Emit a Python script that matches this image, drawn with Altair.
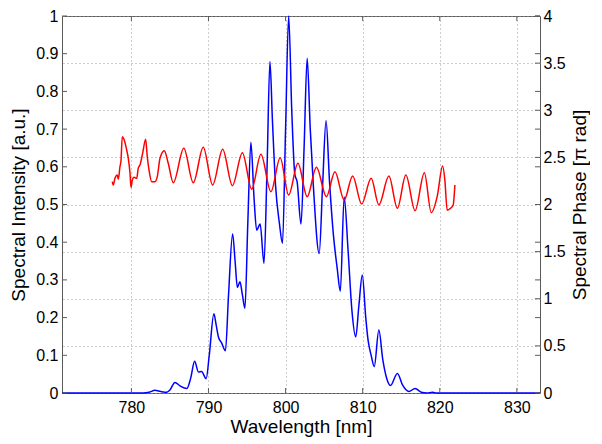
import altair as alt
import pandas as pd

# ---- data ----
wl_blue = [771.0, 781.5, 782.3, 783.06, 783.8, 784.6, 785.0, 785.65, 786.3, 787.2,
           787.7, 788.2, 788.7, 789.1, 789.7, 790.1, 790.7, 791.0, 791.3, 791.7,
           792.2, 792.6, 793.13, 793.45, 793.75, 794.08, 794.4, 794.73, 795.1, 795.5,
           795.9, 796.25, 796.7, 797.2, 797.6, 797.97, 798.3, 798.7, 799.2, 799.6,
           800.0, 800.4, 800.8, 801.2, 801.5, 802.0, 802.4, 802.8, 803.2, 803.6,
           804.36, 804.8, 805.25, 805.7, 806.2, 806.7, 807.1, 807.6, 808.1, 808.6,
           809.1, 809.5, 809.95, 810.4, 810.7, 811.1, 811.5, 812.1, 812.6, 813.1,
           813.6, 814.5, 815.2, 816.0, 816.8, 817.6, 818.3, 819.07, 819.6, 833.0]
intensity = [0.0, 0.0, 0.002, 0.007, 0.004, 0.002, 0.008, 0.028, 0.019, 0.012,
             0.04, 0.084, 0.056, 0.057, 0.038, 0.1, 0.21, 0.18, 0.148, 0.133,
             0.112, 0.26, 0.422, 0.35, 0.28, 0.295, 0.26, 0.225, 0.45, 0.665,
             0.52, 0.432, 0.448, 0.344, 0.6, 0.879, 0.72, 0.55, 0.45, 0.397,
             0.7, 1.0, 0.75, 0.58, 0.56, 0.448, 0.65, 0.888, 0.7, 0.55,
             0.37, 0.55, 0.722, 0.56, 0.42, 0.33, 0.27, 0.52, 0.38, 0.22,
             0.149, 0.23, 0.313, 0.2, 0.14, 0.1, 0.07, 0.167, 0.09, 0.04,
             0.02, 0.052, 0.02, 0.004, 0.012, 0.002, 0.0, 0.002, 0.0, 0.0]

wl_red = [777.52, 777.65, 777.87, 778.17, 778.30, 778.52, 778.65, 778.82, 779.04, 779.39,
          779.60, 779.82, 779.95, 780.12, 780.34, 780.69, 780.89, 781.11, 781.46, 781.85,
          782.06, 782.32, 782.63, 783.06, 783.36, 783.71, 784.27, 784.78, 785.43, 786.8,
          788.03, 789.32, 790.54, 791.84, 793.1, 794.4, 795.6, 796.8, 798.1, 799.3,
          800.4, 801.6, 802.8, 804.0, 805.3, 806.4, 807.6, 808.7, 809.87, 811.1,
          812.1, 813.4, 814.5, 815.6, 816.8, 818.0, 818.9, 819.66, 820.37, 820.66,
          820.96, 821.4, 821.74, 821.96]
phase = [2.242, 2.207, 2.278, 2.313, 2.267, 2.401, 2.465, 2.72, 2.692, 2.578,
         2.49, 2.331, 2.18, 2.26, 2.289, 2.278, 2.384, 2.419, 2.543, 2.692,
         2.507, 2.348, 2.242, 2.242, 2.295, 2.49, 2.571, 2.437, 2.231, 2.596,
         2.231, 2.607, 2.207, 2.586, 2.2, 2.55, 2.161, 2.532, 2.136, 2.497,
         2.10, 2.437, 2.083, 2.395, 2.083, 2.348, 2.048, 2.302, 2.005, 2.278,
         1.995, 2.302, 1.96, 2.313, 1.934, 2.337, 1.913, 2.083, 2.409, 2.26,
         1.94, 1.96, 1.995, 2.207]

x_ticks = [780, 790, 800, 810, 820, 830]
left_ticks = [0, 0.1, 0.2, 0.3, 0.4, 0.5, 0.6, 0.7, 0.8, 0.9, 1]
right_ticks = [0, 0.5, 1, 1.5, 2, 2.5, 3, 3.5, 4]

# ---- layout / style ----
W, H = 478, 377
FONT = "Liberation Sans"
AX = "#5a5a5a"
GRID = "#9a9a9a"

df_blue = pd.DataFrame({"wl": wl_blue, "v": intensity})
df_red = pd.DataFrame({"wl": wl_red, "v": phase})
df_xt = pd.DataFrame({"wl": x_ticks})
df_lt = pd.DataFrame({"v": left_ticks})
df_rt = pd.DataFrame({"v": right_ticks})

xscale = alt.Scale(domain=[771, 833], nice=False, zero=False)
xaxis = alt.Axis(title="Wavelength [nm]", values=x_ticks, format="d",
                 grid=True, gridDash=[1, 3], gridColor=GRID, gridWidth=1,
                 ticks=False, tickSize=0, domain=False, labelPadding=6,
                 labelFlush=False, labelOverlap=False,
                 titleY=39, titleBaseline="alphabetic")


def X():
    return alt.X("wl:Q", scale=xscale, axis=xaxis)


lscale = alt.Scale(domain=[0, 1], nice=False, zero=False)
rscale = alt.Scale(domain=[0, 4], nice=False, zero=False)

blue = alt.Chart(df_blue).mark_line(color="#0000ff", strokeWidth=1.5,
                                    interpolate="monotone").encode(
    x=X(),
    y=alt.Y("v:Q", scale=lscale,
            axis=alt.Axis(orient="left", values=left_ticks, format="~g",
                          grid=False, ticks=False, tickSize=0, domain=False,
                          labelPadding=4, labelFlush=False, labelOverlap=False,
                          title="Spectral Intensity [a.u.]",
                          titleX=-38, titleY=H / 2, titleAngle=270,
                          titleAlign="center", titleBaseline="alphabetic")),
)

red = alt.Chart(df_red).mark_line(color="#ff0000", strokeWidth=1.5,
                                  interpolate="monotone").encode(
    x=X(),
    y=alt.Y("v:Q", scale=rscale,
            axis=alt.Axis(orient="right", values=right_ticks, format="~g",
                          grid=True, gridDash=[1, 3], gridColor=GRID, gridWidth=1,
                          ticks=False, tickSize=0, domain=False,
                          labelPadding=3, labelFlush=False, labelOverlap=False,
                          title="Spectral Phase [π rad]",
                          titleX=45, titleY=H / 2, titleAngle=270,
                          titleAlign="center", titleBaseline="alphabetic")),
)

# inward tick marks (MATLAB style)
tick_bottom = alt.Chart(df_xt).mark_rule(color=AX, strokeWidth=1).encode(
    x=X(), y=alt.value(H), y2=alt.value(H - 5))
tick_top = alt.Chart(df_xt).mark_rule(color=AX, strokeWidth=1).encode(
    x=X(), y=alt.value(0), y2=alt.value(5))
tick_left = alt.Chart(df_lt).mark_rule(color=AX, strokeWidth=1).encode(
    y=alt.Y("v:Q", scale=lscale, axis=None), x=alt.value(0), x2=alt.value(5))
tick_left_mirror = alt.Chart(df_lt).mark_rule(color=AX, strokeWidth=1).encode(
    y=alt.Y("v:Q", scale=lscale, axis=None), x=alt.value(W), x2=alt.value(W - 5))
tick_right = alt.Chart(df_rt).mark_rule(color=AX, strokeWidth=1).encode(
    y=alt.Y("v:Q", scale=rscale, axis=None), x=alt.value(W), x2=alt.value(W - 5))

chart = alt.layer(
    blue, red, tick_bottom, tick_top, tick_left, tick_left_mirror, tick_right
).resolve_scale(y="independent").properties(
    width=W, height=H,
    autosize=alt.AutoSizeParams(type="none"),
    padding={"left": 54, "top": 8, "right": 50, "bottom": 48},
    background="white",
).configure_view(
    stroke=AX, strokeWidth=1
).configure_axis(
    labelFont=FONT, titleFont=FONT, labelColor="black", titleColor="black",
    labelFontSize=16, titleFontSize=19, titleFontWeight="normal",
)

chart.save("out.html", embed_options={"renderer": "svg", "actions": False})
